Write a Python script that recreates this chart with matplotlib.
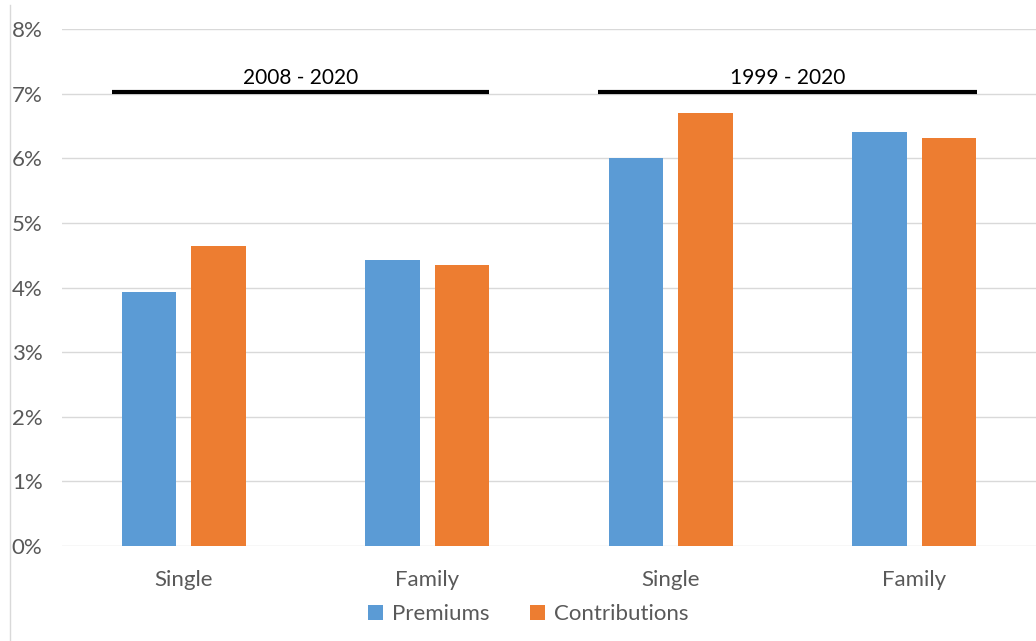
import matplotlib.pyplot as plt
import numpy as np
from matplotlib.lines import Line2D

# annual growth rates, 2008-2020 and 1999-2020
categories = ['Single', 'Family', 'Single', 'Family']
premiums = [3.93, 4.43, 6.00, 6.41]
contributions = [4.64, 4.35, 6.70, 6.32]
periods = ['2008 - 2020', '1999 - 2020']

plt.rcParams['font.family'] = ['Lato', 'DejaVu Sans']

blue = '#5B9BD5'
orange = '#ED7D31'
grey = '#595959'

fig = plt.figure(figsize=(10.36, 6.41), dpi=100)
ax = fig.add_axes([62/1036, 95/641, 974/1036, 517/641])

x = np.arange(len(categories))
w = 0.225
off = 0.1427
ax.bar(x - off, premiums, w, color=blue, label='Premiums', zorder=3)
ax.bar(x + off, contributions, w, color=orange, label='Contributions', zorder=3)

ax.set_xlim(-0.5, 3.5)
ax.set_ylim(0, 8)
ax.set_yticks(range(0, 9))
ax.set_yticklabels([f'{v}%' for v in range(0, 9)])
ax.set_xticks(x)
ax.set_xticklabels(categories)
ax.tick_params(axis='both', length=0, colors=grey)
ax.tick_params(axis='x', pad=17, labelsize=16)
ax.tick_params(axis='y', pad=14, labelsize=16)
ax.grid(axis='y', color='#d9d9d9', linewidth=1, zorder=0)
for s in ax.spines.values():
    s.set_visible(False)

# period brackets above each pair of groups
spans = [(-0.295, 1.254), (1.701, 3.258)]
for (x0, x1), label in zip(spans, periods):
    ax.plot([x0, x1], [7.02, 7.02], color='black', linewidth=3, solid_capstyle='butt',
            zorder=4, clip_on=False)
    ax.text((x0 + x1) / 2, 7.08, label, ha='center', va='bottom', fontsize=15,
            color='black')

fig.add_artist(Line2D([10/1036, 10/1036], [0, 636/641], color='#d9d9d9', linewidth=1))

fig.legend(loc='lower center', bbox_to_anchor=(0.51, -0.005), ncol=2, frameon=False,
           fontsize=16, handlelength=0.7, handleheight=0.7, handletextpad=0.4,
           columnspacing=1.8, labelcolor=grey)

fig.savefig('out.png', dpi=100, facecolor='white')
